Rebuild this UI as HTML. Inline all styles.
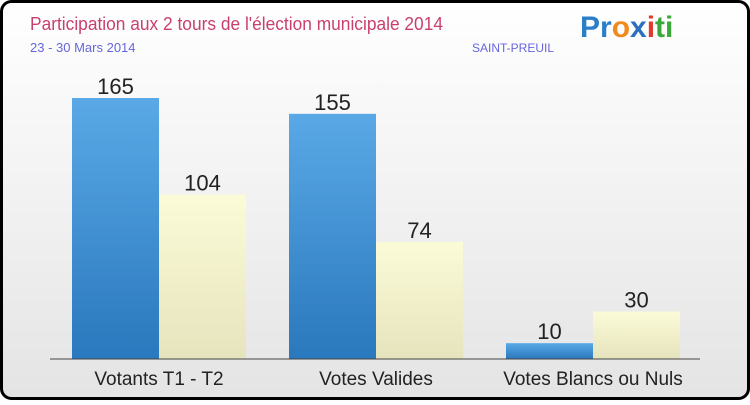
<!DOCTYPE html>
<html><head><meta charset="utf-8"><style>
body{margin:0;width:750px;height:400px;overflow:hidden;font-family:"Liberation Sans",sans-serif}
</style></head><body>
<svg width="750" height="400">
<defs>
<linearGradient id="bg" x1="0" y1="0" x2="0" y2="1"><stop offset="0" stop-color="#ffffff"/><stop offset="1" stop-color="#e4e4e4"/></linearGradient>
<linearGradient id="blue" x1="0" y1="0" x2="0" y2="1"><stop offset="0" stop-color="#5aa9e6"/><stop offset="1" stop-color="#2a78bd"/></linearGradient>
<linearGradient id="beige" x1="0" y1="0" x2="0" y2="1"><stop offset="0" stop-color="#fbfbd8"/><stop offset="1" stop-color="#e6e4bd"/></linearGradient>
</defs>
<rect x="1.5" y="1.5" width="747" height="397" rx="10" fill="url(#bg)" stroke="#000" stroke-width="3"/>
<text x="30" y="30" font-size="18" fill="#c94070" textLength="413" lengthAdjust="spacingAndGlyphs">Participation aux 2 tours de l'élection municipale 2014</text>
<text x="30" y="52" font-size="13" fill="#6666dd">23 - 30 Mars 2014</text>
<text x="472" y="52" font-size="12" fill="#6666dd">SAINT-PREUIL</text>
<text x="580" y="37" font-size="30" font-weight="bold"><tspan fill="#2a7fc8">Pr</tspan><tspan fill="#f08a1c">o</tspan><tspan fill="#2a6fc0">x</tspan><tspan fill="#e03a2a">i</tspan><tspan fill="#3aa83a">ti</tspan></text>
<g id="bars"></g>
<line x1="50" y1="359" x2="700" y2="359" stroke="#444" stroke-width="1"/>
</svg>
<script>
const categories=["Votants T1 - T2","Votes Valides","Votes Blancs ou Nuls"];
const t1Values=[165,155,10];
const t2Values=[104,74,30];
const base=359, scale=261/165;
const y=v=>base-v*scale;
const groupX=i=>72+i*217;
const g=document.getElementById('bars');
const ns="http://www.w3.org/2000/svg";
function mk(tag,attrs,txt){const e=document.createElementNS(ns,tag);for(const k in attrs)e.setAttribute(k,attrs[k]);if(txt!==undefined)e.textContent=txt;g.appendChild(e);return e;}
categories.forEach((c,i)=>{
 [[t1Values[i],'url(#blue)',0],[t2Values[i],'url(#beige)',1]].forEach(([v,f,j])=>{
  const x=groupX(i)+j*87;
  const r=mk('rect',{x:x,y:y(v),width:87,height:v*scale,fill:f});
  
  
  const t=mk('text',{x:x+43.5,y:y(v)-4,'font-size':22,'text-anchor':'middle',fill:'#222'},v);
  
  
 });
 const l=mk('text',{x:groupX(i)+87,y:385,'font-size':19,'text-anchor':'middle',fill:'#222'},c);
 
 
});
</script>
</body></html>
